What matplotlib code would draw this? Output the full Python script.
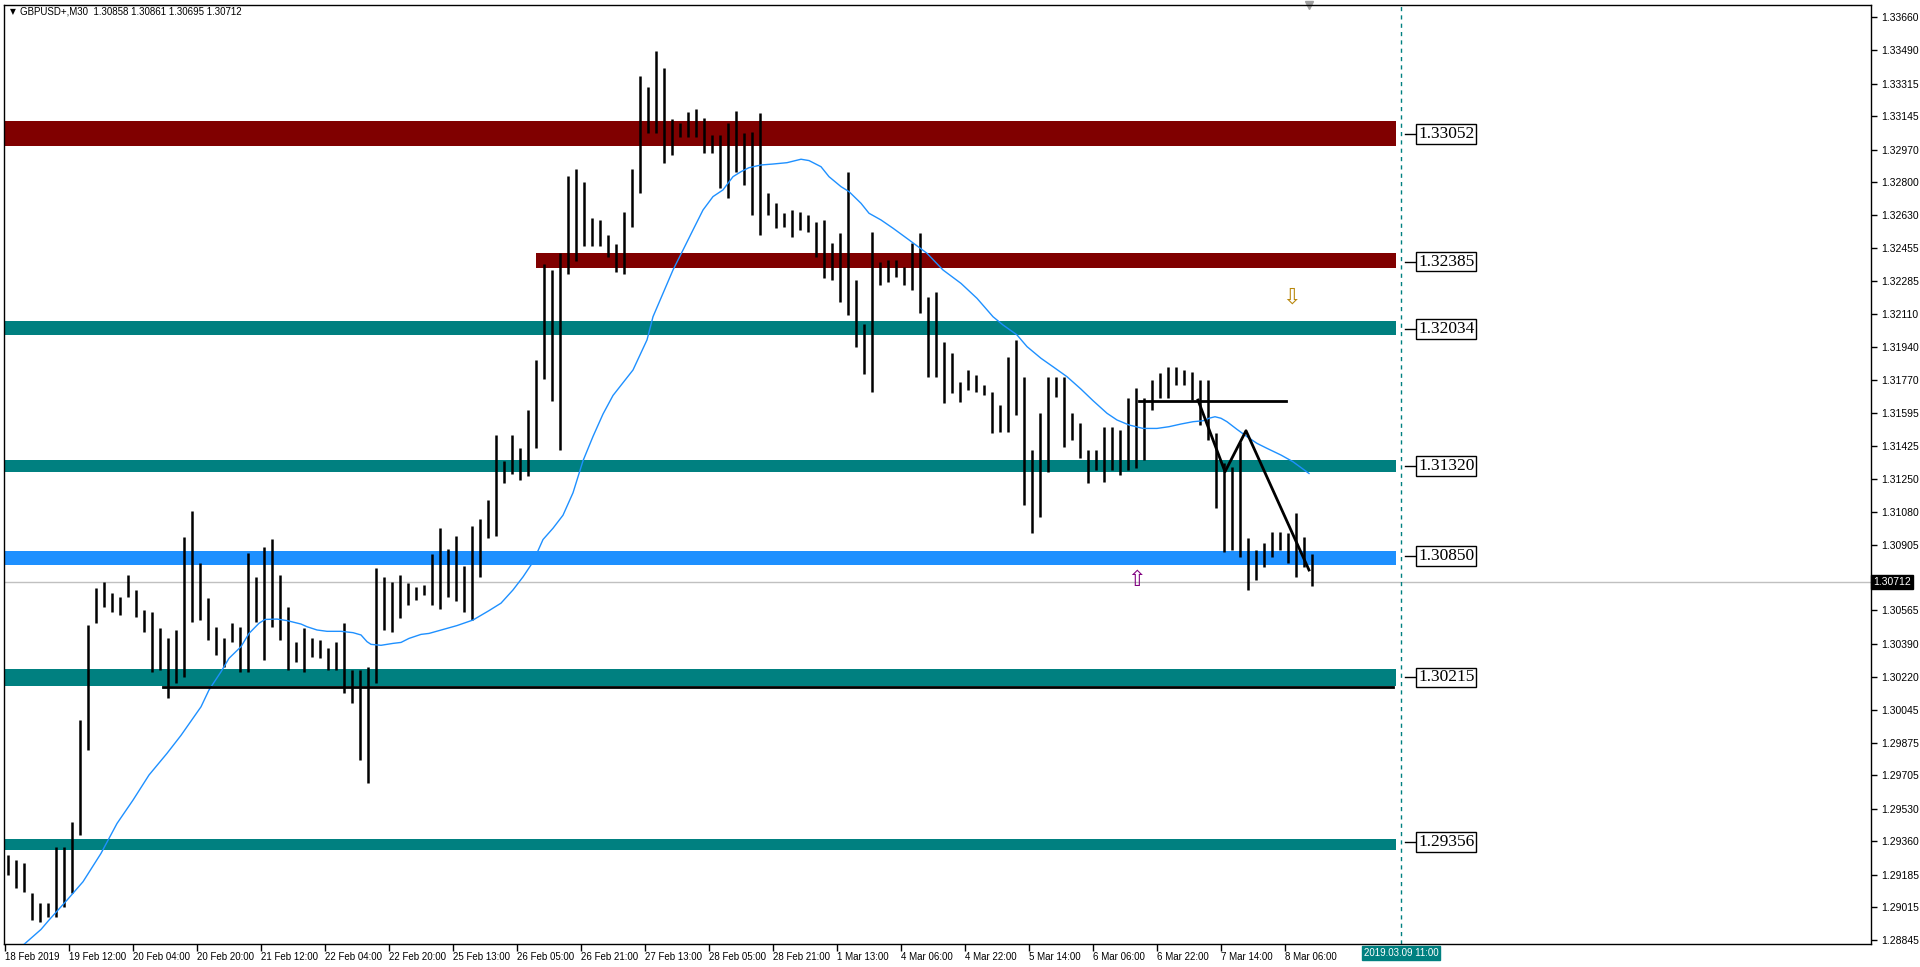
import matplotlib
matplotlib.use('Agg')
import matplotlib.pyplot as plt
from matplotlib.patches import Rectangle

plt.rcParams['font.family'] = ['Liberation Sans', 'DejaVu Sans']

highs = [1.29288, 1.29262, 1.29245, 1.29088, 1.29036, 1.29036, 1.29332, 1.29332, 1.29462, 1.29993,
         1.30489, 1.30680, 1.30715, 1.30654, 1.30637, 1.30750, 1.30672, 1.30567, 1.30558, 1.30471,
         1.30419, 1.30463, 1.30950, 1.31086, 1.30811, 1.30628, 1.30480, 1.30419, 1.30498, 1.30480,
         1.30863, 1.30741, 1.30898, 1.30936, 1.30750, 1.30585, 1.30402, 1.30472, 1.30419, 1.30411,
         1.30367, 1.30402, 1.30498, 1.30254, 1.30254, 1.30271, 1.30785, 1.30738, 1.30715, 1.30750,
         1.30706, 1.30689, 1.30698, 1.30857, 1.30994, 1.30886, 1.30955, 1.30799, 1.31004, 1.31043,
         1.31140, 1.31482, 1.31346, 1.31482, 1.31414, 1.31609, 1.31873, 1.32371, 1.32342, 1.32429,
         1.32830, 1.32869, 1.32800, 1.32615, 1.32605, 1.32527, 1.32478, 1.32644, 1.32869, 1.33355,
         1.33299, 1.33485, 1.33395, 1.33128, 1.33108, 1.33168, 1.33181, 1.33134, 1.33047, 1.33047,
         1.33108, 1.33174, 1.33055, 1.33064, 1.33160, 1.32742, 1.32690, 1.32638, 1.32655, 1.32646,
         1.32629, 1.32594, 1.32603, 1.32481, 1.32533, 1.32855, 1.32290, 1.32060, 1.32542, 1.32386,
         1.32394, 1.32394, 1.32359, 1.32481, 1.32533, 1.32203, 1.32229, 1.31968, 1.31907, 1.31759,
         1.31820, 1.31794, 1.31742, 1.31707, 1.31637, 1.31890, 1.31977, 1.31785, 1.31402, 1.31594,
         1.31785, 1.31785, 1.31785, 1.31594, 1.31542, 1.31402, 1.31402, 1.31524, 1.31524, 1.31507,
         1.31672, 1.31724, 1.31672, 1.31768, 1.31802, 1.31837, 1.31837, 1.31820, 1.31811, 1.31768,
         1.31768, 1.31489, 1.31333, 1.31315, 1.31446, 1.30941, 1.30880, 1.30915, 1.30976, 1.30976,
         1.30967, 1.31072, 1.30950, 1.30861]
lows = [1.29184, 1.29114, 1.29097, 1.28949, 1.28940, 1.28966, 1.28966, 1.29019, 1.29088, 1.29393,
        1.29836, 1.30498, 1.30585, 1.30558, 1.30541, 1.30637, 1.30532, 1.30454, 1.30245, 1.30254,
        1.30106, 1.30184, 1.30219, 1.30506, 1.30515, 1.30411, 1.30332, 1.30271, 1.30402, 1.30245,
        1.30245, 1.30506, 1.30306, 1.30480, 1.30411, 1.30254, 1.30298, 1.30245, 1.30324, 1.30315,
        1.30254, 1.30254, 1.30132, 1.30080, 1.29784, 1.29662, 1.30184, 1.30463, 1.30454, 1.30524,
        1.30593, 1.30619, 1.30646, 1.30594, 1.30574, 1.30633, 1.30613, 1.30555, 1.30515, 1.30740,
        1.30945, 1.30955, 1.31228, 1.31277, 1.31248, 1.31267, 1.31414, 1.31775, 1.31658, 1.31404,
        1.32322, 1.32390, 1.32468, 1.32468, 1.32468, 1.32410, 1.32332, 1.32322, 1.32566, 1.32742,
        1.33055, 1.33055, 1.32899, 1.32942, 1.33038, 1.33038, 1.33038, 1.32951, 1.32951, 1.32768,
        1.32716, 1.32855, 1.32786, 1.32629, 1.32525, 1.32629, 1.32559, 1.32568, 1.32516, 1.32551,
        1.32542, 1.32412, 1.32298, 1.32290, 1.32177, 1.32107, 1.31942, 1.31800, 1.31707, 1.32264,
        1.32281, 1.32307, 1.32264, 1.32238, 1.32116, 1.31785, 1.31785, 1.31650, 1.31698, 1.31655,
        1.31716, 1.31707, 1.31690, 1.31489, 1.31498, 1.31498, 1.31585, 1.31115, 1.30967, 1.31054,
        1.31289, 1.31681, 1.31420, 1.31455, 1.31359, 1.31228, 1.31298, 1.31237, 1.31298, 1.31272,
        1.31298, 1.31307, 1.31350, 1.31611, 1.31672, 1.31672, 1.31742, 1.31742, 1.31663, 1.31533,
        1.31454, 1.31098, 1.30872, 1.30880, 1.30845, 1.30671, 1.30724, 1.30793, 1.30845, 1.30880,
        1.30811, 1.30741, 1.30793, 1.30695]

# moving average (blue line), M30 bar number -> value
ma_bar = [6, 18, 22, 31, 39, 48, 56, 64, 72, 81, 88, 98, 102, 108, 112, 118, 122, 127, 130, 136,
          141, 148, 151, 156, 161, 168, 174, 178, 181, 183, 188, 194, 198, 202, 208, 212, 226, 234,
          242, 248, 254, 259, 264, 269, 274, 279, 284, 289, 294, 299, 304, 314, 321, 324, 329, 334,
          339, 344, 349, 354, 359, 364, 368, 372, 378, 384, 391, 398, 402, 408, 412, 418, 422, 428,
          432, 438, 444, 452, 461, 469, 478, 486, 494, 499, 506, 511, 518, 524, 531, 538, 544, 551,
          556, 562, 569, 576, 582, 588, 594, 599, 602, 605, 608, 611, 616, 621, 626, 631, 638, 644, 652]
ma_val = [1.28790, 1.28900, 1.28949, 1.29053, 1.29149, 1.29297, 1.29453, 1.29575, 1.29706, 1.29819,
          1.29913, 1.30062, 1.30150, 1.30245, 1.30315, 1.30376, 1.30445, 1.30498, 1.30518, 1.30520,
          1.30512, 1.30494, 1.30480, 1.30463, 1.30456, 1.30456, 1.30449, 1.30437, 1.30402, 1.30388,
          1.30383, 1.30393, 1.30398, 1.30419, 1.30440, 1.30445, 1.30486, 1.30515, 1.30564, 1.30603,
          1.30672, 1.30740, 1.30818, 1.30935, 1.30994, 1.31062, 1.31179, 1.31346, 1.31473, 1.31590,
          1.31687, 1.31820, 1.31977, 1.32098, 1.32220, 1.32342, 1.32446, 1.32551, 1.32655, 1.32725,
          1.32760, 1.32829, 1.32855, 1.32876, 1.32890, 1.32895, 1.32902, 1.32920, 1.32913, 1.32881,
          1.32829, 1.32777, 1.32751, 1.32690, 1.32638, 1.32603, 1.32560, 1.32499, 1.32429, 1.32342,
          1.32272, 1.32194, 1.32098, 1.32055, 1.32003, 1.31942, 1.31881, 1.31837, 1.31785, 1.31720,
          1.31660, 1.31594, 1.31559, 1.31533, 1.31515, 1.31515, 1.31524, 1.31538, 1.31550, 1.31555,
          1.31568, 1.31576, 1.31568, 1.31550, 1.31510, 1.31472, 1.31437, 1.31411, 1.31376, 1.31341,
          1.31280]

# support / resistance zones
levels = [1.33052, 1.32385, 1.32034, 1.31320, 1.30850, 1.30215, 1.29356]
zone_lo = [1.32989, 1.32352, 1.32003, 1.31289, 1.30804, 1.30172, 1.29314]
zone_hi = [1.33120, 1.32431, 1.32076, 1.31350, 1.30876, 1.30259, 1.29370]
zone_start = [-2, 265.5, -2, -2, -2, -2, -2]
zone_colors = ['#800000', '#800000', '#008080', '#008080', '#1E90FF', '#008080', '#008080']

time_labels = ['18 Feb 2019', '19 Feb 12:00', '20 Feb 04:00', '20 Feb 20:00', '21 Feb 12:00',
               '22 Feb 04:00', '22 Feb 20:00', '25 Feb 13:00', '26 Feb 05:00', '26 Feb 21:00',
               '27 Feb 13:00', '28 Feb 05:00', '28 Feb 21:00', '1 Mar 13:00', '4 Mar 06:00',
               '4 Mar 22:00', '5 Mar 14:00', '6 Mar 06:00', '6 Mar 22:00', '7 Mar 14:00', '8 Mar 06:00']
price_ticks = [1.33660, 1.33490, 1.33315, 1.33145, 1.32970, 1.32800, 1.32630, 1.32455, 1.32285,
               1.32110, 1.31940, 1.31770, 1.31595, 1.31425, 1.31250, 1.31080, 1.30905, 1.30735,
               1.30565, 1.30390, 1.30220, 1.30045, 1.29875, 1.29705, 1.29530, 1.29360, 1.29185,
               1.29015, 1.28845]

last_ohlc = [1.30858, 1.30861, 1.30695, 1.30712]
zigzag_bar = [596.5, 610, 620.5, 652]
zigzag_val = [1.31663, 1.31289, 1.31503, 1.30776]

fig = plt.figure(figsize=(19.2, 9.67), dpi=100)
ax = fig.add_axes([4 / 1920, 23 / 967, 1867 / 1920, 939 / 967])
ax.set_xlim(-0.5, 933)
ax.set_ylim(1.28824, 1.33725)

for lo, hi, x0, c in zip(zone_lo, zone_hi, zone_start, zone_colors):
    ax.add_patch(Rectangle((x0, lo), 695.5 - x0, hi - lo, color=c, lw=0, zorder=1))

# bars: plain high-low sticks like the terminal draws at this zoom
xs = [4 * j + 1.5 for j in range(len(highs))]
ax.vlines(xs, lows, highs, color='black', lw=1.8, zorder=2)

ax.plot(ma_bar, ma_val, color='#1E90FF', lw=1, zorder=3)

ax.axhline(last_ohlc[3], color='#C0C0C0', lw=1, zorder=1.5)
ax.axvline(698, color='#008080', lw=1, ls=(0, (3, 3)), zorder=2)

ax.plot([79, 694], [1.30167, 1.30167], color='black', lw=2, zorder=4)
ax.plot([567, 640.5], [1.31660, 1.31660], color='black', lw=2, zorder=4)
ax.plot(zigzag_bar, zigzag_val, color='black', lw=2, zorder=4)

ax.text(643.5, 1.32196, '\u21e9', color='#B8860B', fontsize=16, ha='center', va='center',
        family='DejaVu Sans', zorder=5)
ax.text(566, 1.30724, '\u21e7', color='#800080', fontsize=16, ha='center', va='center',
        family='DejaVu Sans', zorder=5)

for lvl in levels:
    ax.plot([700, 705.5], [lvl, lvl], color='black', lw=1, zorder=4)
    ax.text(706.5, lvl, f'{lvl:.5f}', fontsize=12.5, family='Liberation Serif', ha='left', va='center',
            zorder=5, bbox=dict(boxstyle='square,pad=0.1', fc='white', ec='black', lw=1))

# axes look
for s in ax.spines.values():
    s.set_color('black')
    s.set_linewidth(1)
ax.yaxis.tick_right()
ax.set_yticks(price_ticks)
# the tick under the live price box keeps its mark but not its text
ax.set_yticklabels(['' if abs(p - last_ohlc[3]) < 0.0004 else f'{p:.5f}' for p in price_ticks])
ax.tick_params(axis='y', direction='out', length=4, width=1, labelsize=7.5, pad=3)
ax.set_xticks([32 * k for k in range(len(time_labels))])
ax.set_xticklabels(time_labels)
ax.tick_params(axis='x', direction='out', length=5, width=1, labelsize=7, pad=1)
for lbl in ax.get_xticklabels():
    lbl.set_ha('left')

ytr = ax.get_yaxis_transform()
ax.text(1.0012, last_ohlc[3], f'{last_ohlc[3]:.5f}', transform=ytr, color='white', fontsize=7.5,
        ha='left', va='center', zorder=6, clip_on=False,
        bbox=dict(boxstyle='square,pad=0.2', fc='black', ec='black'))

xtr = ax.get_xaxis_transform()
ax.text(698, -0.0095, '2019.03.09 11:00', transform=xtr, color='white', fontsize=7,
        ha='center', va='center', clip_on=False,
        bbox=dict(boxstyle='square,pad=0.2', fc='#008080', ec='#008080'))
ax.plot([652], [1.0], transform=xtr, marker='v', color='#A0A0A0', markersize=6, clip_on=False)

fig.text(10 / 1920, 1 - 12 / 967, '\u25bc', fontsize=5.5, va='center', family='DejaVu Sans')
fig.text(20 / 1920, 1 - 12 / 967,
         'GBPUSD+,M30  ' + ' '.join(f'{v:.5f}' for v in last_ohlc), fontsize=7, va='center')

fig.savefig('out.png', dpi=100, facecolor='white')
